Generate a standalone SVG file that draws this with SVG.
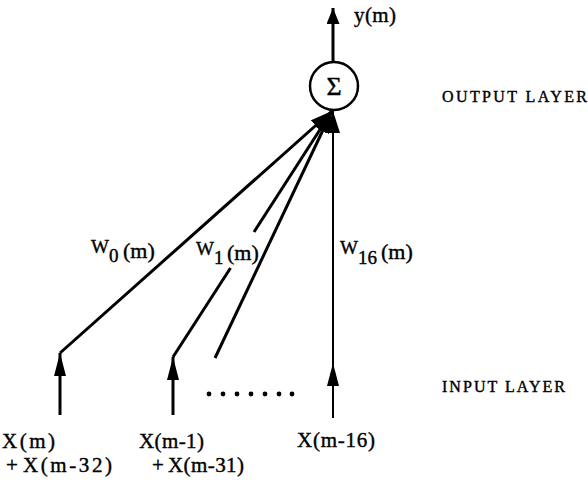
<svg xmlns="http://www.w3.org/2000/svg" width="588" height="487" viewBox="0 0 588 487">
<style>
text{font-family:'Liberation Serif','DejaVu Serif','Times New Roman',serif;fill:#000;stroke:#000;stroke-width:0.4px}
.lbl{font-size:21px}
.layer{font-size:16px}
.w{font-size:19px}
.sub{font-size:19px}
.par{font-size:22px}
.thick{stroke:#000;stroke-width:3;fill:none}
.thin{stroke:#000;stroke-width:2;fill:none}
.dot{fill:#000}
</style>
<defs>
<marker id="big" markerUnits="userSpaceOnUse" markerWidth="22" markerHeight="14" refX="22" refY="7" orient="auto" viewBox="0 0 22 14"><path d="M0,0 L22,7 L0,14 z" fill="#000"/></marker>
<marker id="small" markerUnits="userSpaceOnUse" markerWidth="23" markerHeight="12" refX="23" refY="6" orient="auto" viewBox="0 0 23 12"><path d="M0,0 L23,6 L0,12 z" fill="#000"/></marker>
<marker id="out" markerUnits="userSpaceOnUse" markerWidth="16" markerHeight="13" refX="16" refY="6.5" orient="auto" viewBox="0 0 16 13"><path d="M0,0 L16,6.5 L0,13 z" fill="#000"/></marker>
</defs>

<g id="connectors">
<line class="thick" x1="333" y1="62" x2="333" y2="8" marker-end="url(#out)"/>
<line class="thick" x1="60" y1="415" x2="60" y2="353" marker-end="url(#small)"/>
<line class="thick" x1="173" y1="415" x2="173" y2="357" marker-end="url(#small)"/>
<line class="thin" x1="333" y1="418" x2="333" y2="363" marker-end="url(#small)"/>
<line class="thick" x1="60" y1="353" x2="332" y2="111" marker-end="url(#big)"/>
<line class="thick" x1="173" y1="357" x2="230.5" y2="268"/>
<line class="thick" x1="254" y1="232" x2="332" y2="111" marker-end="url(#big)"/>
<line class="thick" x1="215" y1="358" x2="332" y2="111" marker-end="url(#big)"/>
<line class="thin" x1="333" y1="363" x2="333" y2="111" marker-end="url(#big)"/>
</g>

<g id="sum-node">
<circle cx="334" cy="86" r="24" fill="#fff" stroke="#000" stroke-width="2.5"/>
<text x="334" y="95" text-anchor="middle" style="font-size:26px">Σ</text>
</g>

<g id="output-label">
<text class="lbl" x="354" y="22" textLength="42" lengthAdjust="spacing">y(m)</text>
</g>

<g id="weight-w0">
<text x="91" y="253"><tspan class="w">W</tspan><tspan class="sub" x="109" y="262">0</tspan><tspan class="par" x="123" y="258">(m)</tspan></text>
</g>
<g id="weight-w1">
<text x="196" y="255"><tspan class="w">W</tspan><tspan class="sub" x="214" y="264">1</tspan><tspan class="par" x="227" y="260">(m)</tspan></text>
</g>
<g id="weight-w16">
<text x="340" y="254"><tspan class="w">W</tspan><tspan class="sub" x="358" y="264">16</tspan><tspan class="par" x="381" y="259">(m)</tspan></text>
</g>

<g id="input-0">
<text class="lbl" x="2" y="448" textLength="53" lengthAdjust="spacing">X(m)</text>
<text class="lbl" x="6" y="472">+</text>
<text class="lbl" x="23" y="472" textLength="89" lengthAdjust="spacing">X(m-32)</text>
</g>
<g id="input-1">
<text class="lbl" x="139" y="448" textLength="65" lengthAdjust="spacing">X(m-1)</text>
<text class="lbl" x="152" y="472">+</text>
<text class="lbl" x="168" y="472" textLength="76" lengthAdjust="spacing">X(m-31)</text>
</g>
<g id="input-16">
<text class="lbl" x="297" y="447" textLength="78" lengthAdjust="spacing">X(m-16)</text>
</g>

<g id="ellipsis">
<circle class="dot" cx="209" cy="394" r="2.4"/>
<circle class="dot" cx="223" cy="394" r="2.4"/>
<circle class="dot" cx="237" cy="394" r="2.4"/>
<circle class="dot" cx="251" cy="394" r="2.4"/>
<circle class="dot" cx="265" cy="394" r="2.4"/>
<circle class="dot" cx="279" cy="394" r="2.4"/>
<circle class="dot" cx="292" cy="394" r="2.4"/>
</g>

<g id="layer-labels">
<text class="layer" x="442" y="102" textLength="145" lengthAdjust="spacing">OUTPUT LAYER</text>
<text class="layer" x="442" y="392" textLength="123" lengthAdjust="spacing">INPUT LAYER</text>
</g>
</svg>
